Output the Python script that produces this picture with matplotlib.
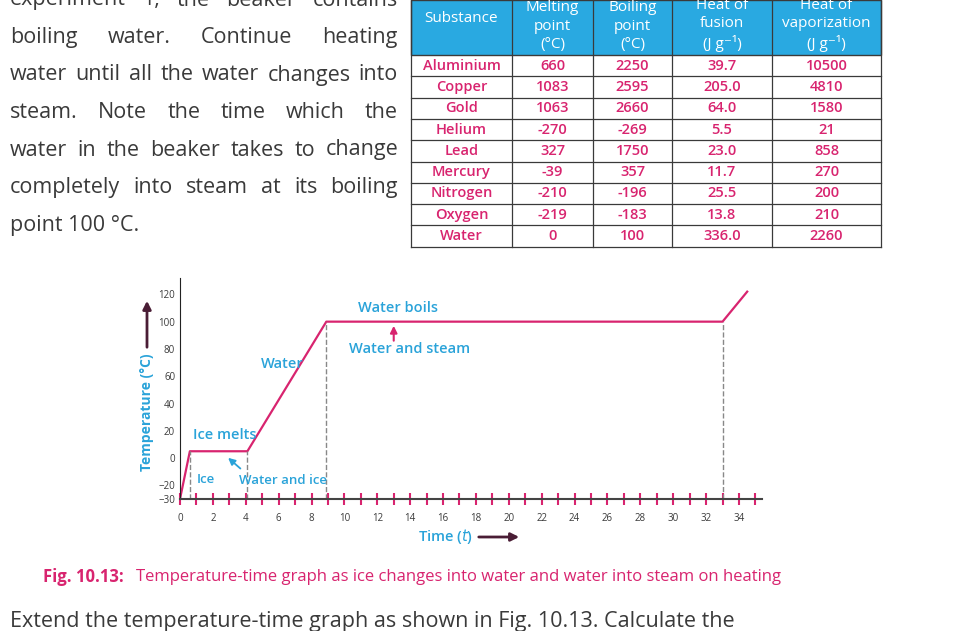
import matplotlib.pyplot as plt
from matplotlib.patches import Rectangle, FancyArrowPatch

# data
times = [0, 0.6, 4.1, 8.9, 33, 34.5]
temps = [-30, 5, 5, 100, 100, 122]
phase_x = [0.6, 4.1, 8.9, 33]
phase_y = [5, 5, 100, 100]

substances = ['Aluminium', 'Copper', 'Gold', 'Helium', 'Lead', 'Mercury', 'Nitrogen', 'Oxygen', 'Water']
melting = ['660', '1083', '1063', '-270', '327', '-39', '-210', '-219', '0']
boiling = ['2250', '2595', '2660', '-269', '1750', '357', '-196', '-183', '100']
fusion = ['39.7', '205.0', '64.0', '5.5', '23.0', '11.7', '25.5', '13.8', '336.0']
vapor = ['10500', '4810', '1580', '21', '858', '270', '200', '210', '2260']
headers = ['Substance', 'Melting\npoint\n(°C)', 'Boiling\npoint\n(°C)', 'Heat of\nfusion\n(J g⁻¹)',
           'Heat of\nvaporization\n(J g⁻¹)']

para = ['experiment 1, the beaker contains', 'boiling water. Continue heating',
        'water until all the water changes into', 'steam. Note the time which the',
        'water in the beaker takes to change', 'completely into steam at its boiling',
        'point 100 °C.']

W, H = 956, 631
CYAN = '#2aa3d9'
MAG = '#d8246f'
DARK = '#3a3a3a'

fig = plt.figure(figsize=(9.56, 6.31), dpi=100)
plt.rcParams['font.family'] = ['Open Sans', 'DejaVu Sans']

def fx(px): return px / W
def fy(py): return 1 - py / H

# paragraph, justified to the right edge of the column
renderer = fig.canvas.get_renderer()
left, right = 10, 398
for i, line in enumerate(para):
    y = 0 + i * 37.5
    words = line.split()
    if i == len(para) - 1:
        fig.text(fx(left), fy(y), line, fontsize=15.5, color=DARK, va='center')
        continue
    arts = [fig.text(0, fy(y), w, fontsize=15.5, color=DARK, va='center') for w in words]
    widths = [a.get_window_extent(renderer).width for a in arts]
    gap = (right - left - sum(widths)) / (len(words) - 1)
    x = left
    for a, wd in zip(arts, widths):
        a.set_x(fx(x))
        x += wd + gap

# table
cols = [411, 512, 593, 672, 772, 881]
row_top = 55
row_h = 21.3
fig.patches.append(Rectangle((fx(411), fy(row_top)), fx(470), row_top / H, transform=fig.transFigure,
                             facecolor='#29a9e1', edgecolor=DARK, lw=1))
for j, h in enumerate(headers):
    cx = (cols[j] + cols[j + 1]) / 2
    if j == 0:
        fig.text(fx(cx), fy(18), h, fontsize=11, color='white', ha='center', va='center')
    else:
        fig.text(fx(cx), fy(row_top - 3), h, fontsize=11, color='white', ha='center', va='bottom',
                 linespacing=1.3)
    fig.lines.append(plt.Line2D([fx(cols[j])] * 2, [fy(0), fy(row_top + 9 * row_h)],
                                transform=fig.transFigure, color=DARK, lw=0.9))
fig.lines.append(plt.Line2D([fx(cols[-1])] * 2, [fy(0), fy(row_top + 9 * row_h)],
                            transform=fig.transFigure, color=DARK, lw=0.9))
for i in range(9):
    y0 = row_top + i * row_h
    fig.lines.append(plt.Line2D([fx(411), fx(881)], [fy(y0 + row_h)] * 2,
                                transform=fig.transFigure, color=DARK, lw=0.9))
    for j, v in enumerate([substances[i], melting[i], boiling[i], fusion[i], vapor[i]]):
        cx = (cols[j] + cols[j + 1]) / 2
        fig.text(fx(cx), fy(y0 + row_h / 2), v, fontsize=10.5, color=MAG, ha='center', va='center',
                 fontweight='semibold')

# chart
ax = fig.add_axes([fx(180), fy(499), fx(762 - 180), (499 - 278) / H])
ax.plot(times, temps, color=MAG, lw=1.6)
for x, y in zip(phase_x, phase_y):
    ax.plot([x, x], [-30, y], color='#888888', ls='--', lw=1)
ax.set_xlim(0, 35.4)
ax.set_ylim(-30, 132)
ax.set_xticks(range(0, 35, 2))
ax.set_xticks(range(0, 36), minor=True)
ax.set_yticks([-30, -20, 0, 20, 40, 60, 80, 100, 120])
ax.tick_params(axis='x', which='both', direction='inout', color=MAG, length=8, width=1.5,
               labelsize=7, labelcolor=DARK, pad=6)
ax.tick_params(axis='y', length=0, labelsize=7, labelcolor=DARK)
for s in ['top', 'right']:
    ax.spines[s].set_visible(False)
ax.spines['left'].set_color('#222222')
ax.spines['bottom'].set_color('#444444')
ax.spines['bottom'].set_linewidth(1.5)

tk = dict(color=CYAN, fontsize=10.5, fontweight='semibold')
ax.text(10.8, 107, 'Water boils', **tk)
ax.text(10.3, 77, 'Water and steam', **tk)
ax.text(4.9, 66, 'Water', **tk)
ax.text(0.8, 14, 'Ice melts', **tk)
ax.text(1.0, -18, 'Ice', fontsize=9.5, color=CYAN, fontweight='semibold')
ax.text(3.6, -19, 'Water and ice', fontsize=9.5, color=CYAN, fontweight='semibold')
ax.annotate('', xy=(13, 99), xytext=(13, 84),
            arrowprops=dict(arrowstyle='-|>', color=MAG, lw=1.5))
ax.annotate('', xy=(2.8, 1.5), xytext=(3.8, -9),
            arrowprops=dict(arrowstyle='-|>', color=CYAN, lw=1.3))

fig.text(fx(147), fy(412), 'Temperature (°C)', rotation=90, color=CYAN, fontsize=10,
         fontweight='bold', ha='center', va='center')
fig.patches.append(FancyArrowPatch((fx(147), fy(350)), (fx(147), fy(298)), transform=fig.transFigure,
                                   arrowstyle='-|>', mutation_scale=12, color='#4a1d35', lw=2))
fig.text(fx(446), fy(537), 'Time ($\\it{t}$)', color=CYAN, fontsize=10.5, fontweight='semibold',
         ha='center', va='center')
fig.patches.append(FancyArrowPatch((fx(476), fy(537)), (fx(522), fy(537)), transform=fig.transFigure,
                                   arrowstyle='-|>', mutation_scale=12, color='#4a1d35', lw=2))

# caption
fig.text(fx(43), fy(577), 'Fig. 10.13:', color=MAG, fontsize=12, fontweight='bold', va='center')
fig.text(fx(136), fy(577), 'Temperature-time graph as ice changes into water and water into steam on heating',
         color=MAG, fontsize=12, va='center')
fig.text(fx(10), fy(621), 'Extend the temperature-time graph as shown in Fig. 10.13. Calculate the',
         color=DARK, fontsize=15.5, va='center')

fig.savefig('out.png', dpi=100)
